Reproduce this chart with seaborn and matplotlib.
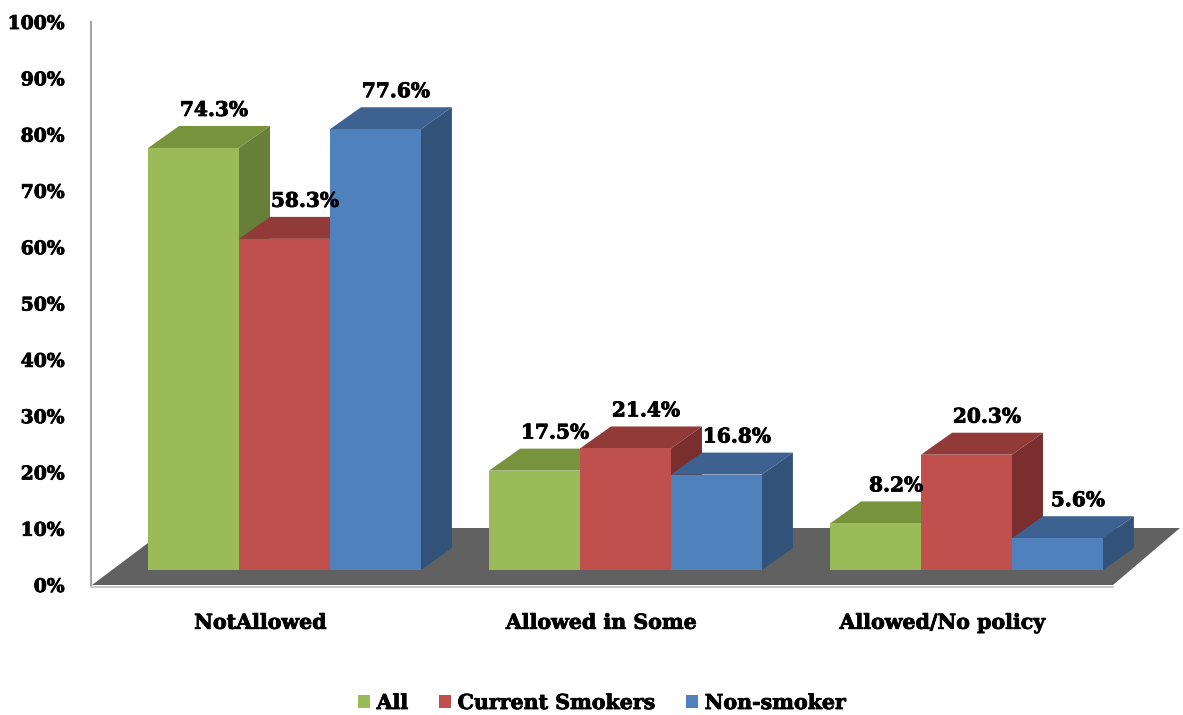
import matplotlib
matplotlib.use("Agg")
import matplotlib.pyplot as plt
import matplotlib.transforms as mtransforms
import matplotlib.patheffects as pe
from matplotlib.patches import Polygon, Patch
from matplotlib.lines import Line2D
import seaborn as sns
import pandas as pd

# ---- data ----
categories = ["NotAllowed", "Allowed in Some", "Allowed/No policy"]
groups = ["All", "Current Smokers", "Non-smoker"]
all_vals = [74.3, 17.5, 8.2]
smoker_vals = [58.3, 21.4, 20.3]
nonsmoker_vals = [77.6, 16.8, 5.6]
y_ticks = [0, 10, 20, 30, 40, 50, 60, 70, 80, 90, 100]
y_tick_labels = [f"{t}%" for t in y_ticks]

# ---- colours (front / top / side faces) ----
front_colors = ["#9BBB59", "#C0504D", "#4F81BD"]
top_colors = ["#77933C", "#913A38", "#3D6190"]
side_colors = ["#66803A", "#7A2E2D", "#32527A"]
floor_color = "#616161"

df = pd.DataFrame({
    "policy": categories * 3,
    "group": [g for g in groups for _ in categories],
    "pct": all_vals + smoker_vals + nonsmoker_vals,
})

sns.set_theme(style="white")
plt.rcParams["font.family"] = ["DejaVu Serif"]
plt.rcParams["font.weight"] = "bold"
plt.rcParams["text.color"] = "black"
plt.rcParams["xtick.color"] = "black"
plt.rcParams["ytick.color"] = "black"

# slight extra stroke to give the bold serif text more weight
heavy = [pe.withStroke(linewidth=0.6, foreground="black")]

W, H = 1183, 715
fig = plt.figure(figsize=(W / 100, H / 100), dpi=100)
fig.patch.set_facecolor("white")

# value-axis frame (wall scale)
ax = fig.add_axes([91 / W, 1 - 585 / H, (W - 91) / W, (585 - 22) / H])
ax.set_ylim(0, 100)
ax.set_yticks(y_ticks)
ax.set_yticklabels(y_tick_labels, fontsize=13.5, fontweight="bold")
ax.tick_params(axis="y", length=0, pad=19)
for lab in ax.get_yticklabels():
    lab.set_path_effects(heavy)
for s in ["top", "right", "bottom"]:
    ax.spines[s].set_visible(False)
ax.spines["left"].set_color("#A6A6A6")
ax.spines["left"].set_linewidth(1.5)


def px(x, y):
    """Pixel position inside the figure -> axes fraction of the frame."""
    return ((x - 91) / (W - 91), (585 - y) / (585 - 22))


# floor of the 3-D plot area
ax.add_patch(Polygon([px(92, 585), px(1113, 585), px(1180, 528), px(168, 528)],
                     closed=True, transform=ax.transAxes, facecolor=floor_color,
                     edgecolor="none", clip_on=False, zorder=0))
ax.add_line(Line2D([px(91, 587)[0], px(1113, 587)[0]], [px(91, 587)[1], px(1113, 587)[1]],
                   transform=ax.transAxes, color="#C8C8C8", lw=1.5, clip_on=False))

# bars
axb = ax.twinx()
sns.barplot(data=df, x="policy", y="pct", hue="group", order=categories,
            hue_order=groups, palette=front_colors, saturation=1, width=0.8,
            linewidth=0, legend=False, ax=axb)
axb.set_ylim(-2.64, 96.48)
axb.set_xlim(-0.5674, 2.635)
axb.set_yticks([])
axb.set_ylabel("")
axb.set_xlabel("")
for s in axb.spines.values():
    s.set_visible(False)

# depth of the 3-D boxes in data units
dx, dy = 0.091, 3.87

bars = []
for gi, cont in enumerate(axb.containers):
    for bar in cont:
        bars.append((bar.get_x(), gi, bar))
bars.sort(key=lambda b: b[0])

for rank, (x0, gi, bar) in enumerate(bars):
    w = bar.get_width()
    h = bar.get_height()
    bar.set_zorder(3 + 2 * rank)
    top = [(x0, h), (x0 + w, h), (x0 + w + dx, h + dy), (x0 + dx, h + dy)]
    side = [(x0 + w, 0), (x0 + w, h), (x0 + w + dx, h + dy), (x0 + w + dx, dy)]
    axb.add_patch(Polygon(top, closed=True, facecolor=top_colors[gi],
                          edgecolor="none", zorder=2 + 2 * rank))
    axb.add_patch(Polygon(side, closed=True, facecolor=side_colors[gi],
                          edgecolor="none", zorder=2 + 2 * rank))
    axb.text(x0 + w / 2 + 0.06, h + 6.7, f"{h:.1f}%", ha="center", va="center",
             fontsize=14.5, fontweight="bold", color="black", zorder=100,
             path_effects=heavy)

# category labels
ax.set_xticks(range(len(categories)))
ax.set_xticklabels(categories, fontsize=14.8, fontweight="bold")
ax.tick_params(axis="x", length=0, pad=20)
shift = mtransforms.ScaledTranslation(-24 / 100, 0, fig.dpi_scale_trans)
for lab in ax.get_xticklabels():
    lab.set_transform(lab.get_transform() + shift)
    lab.set_path_effects(heavy)

# legend
handles = [Patch(facecolor=c, edgecolor="none", label=g)
           for c, g in zip(front_colors, groups)]
leg = fig.legend(handles=handles, loc="center", bbox_to_anchor=(602 / W, 1 - 703 / H),
                 ncol=3, frameon=False, prop={"size": 14.8, "weight": "bold"},
                 handlelength=0.6, handleheight=0.6, handletextpad=0.3,
                 columnspacing=1.5)
for t in leg.get_texts():
    t.set_path_effects(heavy)

fig.savefig("out.png", dpi=100)
